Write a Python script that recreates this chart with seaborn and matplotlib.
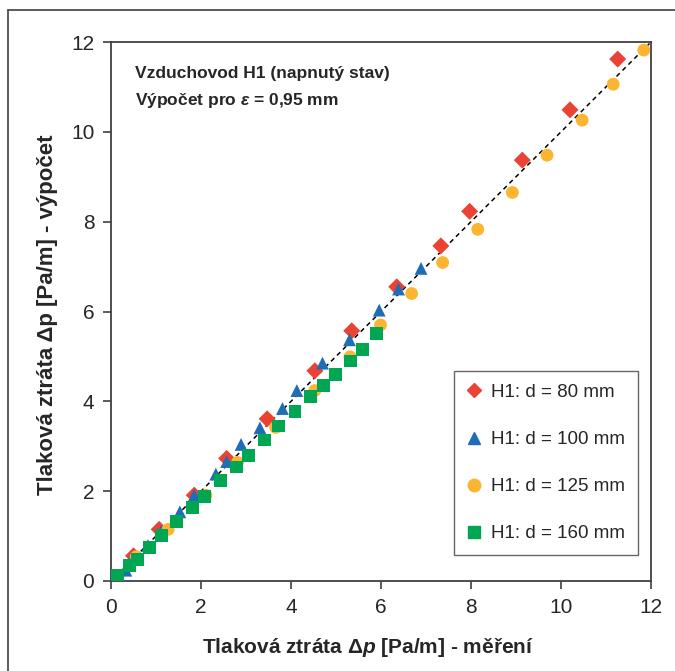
import numpy as np
import pandas as pd
import matplotlib
matplotlib.use("Agg")
import matplotlib.pyplot as plt
import seaborn as sns
from matplotlib.lines import Line2D

# Measured vs. computed pressure loss for duct H1, four diameters
x_80 = [0.50, 1.07, 1.85, 2.57, 3.47, 4.53, 5.35, 6.35, 7.33, 7.97, 9.14, 10.20, 11.26]
y_80 = [0.56, 1.15, 1.91, 2.73, 3.61, 4.68, 5.57, 6.55, 7.46, 8.23, 9.37, 10.49, 11.62]

x_100 = [0.33, 0.46, 0.82, 1.11, 1.53, 1.85, 2.33, 2.57, 2.89, 3.31, 3.81, 4.13, 4.70,
         5.30, 5.96, 6.39, 6.89]
y_100 = [0.24, 0.50, 0.79, 1.10, 1.54, 1.91, 2.38, 2.66, 3.04, 3.41, 3.84, 4.24, 4.85,
         5.37, 6.03, 6.50, 6.96]

x_125 = [0.56, 1.27, 2.11, 2.81, 3.66, 4.53, 5.31, 5.99, 6.68, 7.37, 8.15, 8.92, 9.69,
         10.47, 11.16, 11.84]
y_125 = [0.54, 1.15, 1.91, 2.64, 3.42, 4.24, 4.99, 5.70, 6.40, 7.09, 7.83, 8.65, 9.48,
         10.26, 11.06, 11.82]

x_160 = [0.14, 0.41, 0.58, 0.85, 1.12, 1.45, 1.81, 2.07, 2.43, 2.78, 3.05, 3.41, 3.73,
         4.09, 4.44, 4.72, 4.98, 5.32, 5.58, 5.90]
y_160 = [0.13, 0.35, 0.48, 0.75, 1.02, 1.33, 1.64, 1.89, 2.23, 2.54, 2.80, 3.14, 3.45,
         3.78, 4.10, 4.36, 4.60, 4.90, 5.16, 5.51]

series_labels = ["H1: d = 80 mm", "H1: d = 100 mm", "H1: d = 125 mm", "H1: d = 160 mm"]
series_colors = ["#EA4335", "#1F6DB5", "#FBB531", "#00A651"]
series_markers = ["D", "^", "o", "s"]
ticks = [0, 2, 4, 6, 8, 10, 12]

frames = []
for lab, xs, ys in zip(series_labels, [x_80, x_100, x_125, x_160], [y_80, y_100, y_125, y_160]):
    frames.append(pd.DataFrame({"mereni": xs, "vypocet": ys, "serie": lab}))
df = pd.concat(frames, ignore_index=True)

sns.set_style("white")
plt.rcParams["font.family"] = ["Liberation Sans", "DejaVu Sans"]
plt.rcParams["mathtext.fontset"] = "custom"
plt.rcParams["mathtext.it"] = "Liberation Sans:italic:bold"
plt.rcParams["mathtext.rm"] = "Liberation Sans:bold"

fig = plt.figure(figsize=(6.75, 6.71), dpi=100)
ax = fig.add_axes([111 / 675, 1 - 581 / 671, 540 / 675, 539 / 671])

# 1:1 reference line
ax.plot([0, 12], [0, 12], ls=(0, (3, 2.5)), color="black", lw=1.1, zorder=1)

sizes = {"D": 75, "^": 85, "o": 85, "s": 85}
for lab, col, mk in zip(series_labels, series_colors, series_markers):
    sub = df[df["serie"] == lab]
    sns.scatterplot(data=sub, x="mereni", y="vypocet", color=col, marker=mk,
                    s=sizes[mk], edgecolor="none", linewidth=0, ax=ax, zorder=3,
                    legend=False)

ax.set_xlim(0, 12)
ax.set_ylim(0, 12)
ax.set_xticks(ticks)
ax.set_yticks(ticks)
ax.set_xticklabels([str(t) for t in ticks])
ax.set_yticklabels([str(t) for t in ticks])
ax.tick_params(axis="both", direction="out", length=6, width=1.2, color="#404040",
               labelsize=15, pad=6, bottom=True, left=True)
for sp in ax.spines.values():
    sp.set_color("#404040")
    sp.set_linewidth(1.3)

ax.set_xlabel("Tlaková ztráta Δ$p$ [Pa/m] - měření", fontsize=15, fontweight="bold")
ax.set_ylabel("Tlaková ztráta Δp [Pa/m] - výpočet", fontsize=16, fontweight="bold")
ax.xaxis.set_label_coords(0.475, -0.124)
ax.yaxis.set_label_coords(-0.118, 0.494)
ax.xaxis.label.set_va("center")
ax.yaxis.label.set_va("center")

ax.text(0.045, 0.942, "Vzduchovod H1 (napnutý stav)", transform=ax.transAxes,
        fontsize=12.5, fontweight="bold", va="center", ha="left")
ax.text(0.045, 0.892, "Výpočet pro $\\varepsilon$ = 0,95 mm", transform=ax.transAxes,
        fontsize=12.5, fontweight="bold", va="center", ha="left")

handles = [Line2D([], [], ls="none", marker=mk, color=col, markersize=ms)
           for col, mk, ms in zip(series_colors, series_markers, [7, 8, 9, 8])]
leg = ax.legend(handles, series_labels, loc="lower right", bbox_to_anchor=(0.975, 0.048),
                frameon=True, fancybox=False, fontsize=13.5, labelspacing=1.6,
                handlelength=0.8, handletextpad=0.5, borderpad=0.68, borderaxespad=0)
leg.get_frame().set_edgecolor("#404040")
leg.get_frame().set_linewidth(1.0)

# outer frame of the graphic
fig.add_artist(Line2D([8 / 675, 8 / 675], [0, 1 - 10 / 671], transform=fig.transFigure,
                      color="#404040", lw=1.2))
fig.add_artist(Line2D([8 / 675, 1], [1 - 10 / 671, 1 - 10 / 671], transform=fig.transFigure,
                      color="#404040", lw=1.2))

fig.savefig("out.png", dpi=100)
